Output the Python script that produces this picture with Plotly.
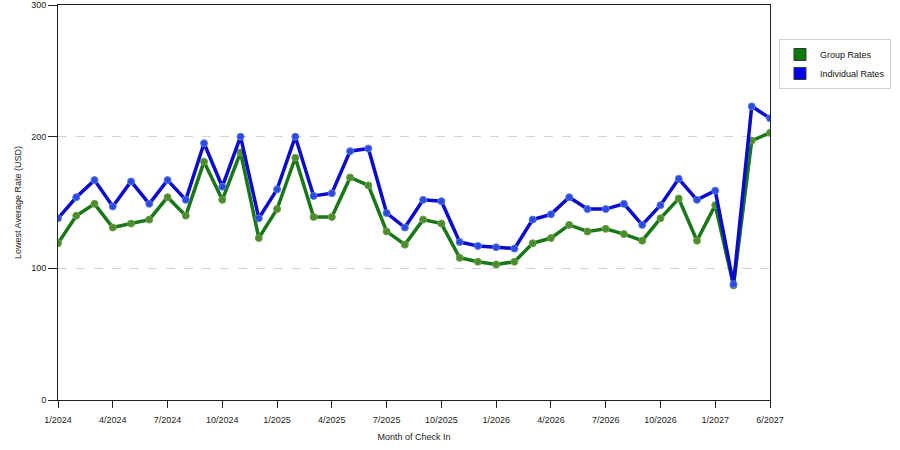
import plotly.graph_objects as go

# Months of check in (one point per month shown on the chart)
months = ["1/2024", "2/2024", "3/2024", "4/2024", "5/2024", "6/2024", "7/2024", "8/2024",
          "9/2024", "10/2024", "11/2024", "12/2024", "1/2025", "2/2025", "3/2025", "4/2025",
          "5/2025", "6/2025", "7/2025", "8/2025", "9/2025", "10/2025", "11/2025", "12/2025",
          "1/2026", "2/2026", "3/2026", "4/2026", "5/2026", "6/2026", "7/2026", "8/2026",
          "9/2026", "10/2026", "11/2026", "12/2026", "1/2027", "2/2027", "3/2027", "4/2027"]

group_rates = [119, 140, 149, 131, 134, 137, 154, 140, 181, 152, 188, 123, 145, 184, 139, 139,
               169, 163, 128, 118, 137, 134, 108, 105, 103, 105, 119, 123, 133, 128, 130, 126,
               121, 138, 153, 121, 148, 87, 197, 203]

individual_rates = [138, 154, 167, 147, 166, 149, 167, 152, 195, 162, 200, 138, 160, 200, 155, 157,
                    189, 191, 142, 131, 152, 151, 120, 117, 116, 115, 137, 141, 154, 145, 145, 149,
                    133, 148, 168, 152, 159, 88, 223, 214]

# axis ticks as printed on the chart
tick_months = ["1/2024", "4/2024", "7/2024", "10/2024", "1/2025", "4/2025", "7/2025", "10/2025",
               "1/2026", "4/2026", "7/2026", "10/2026", "1/2027", "4/2027"]
tick_labels = ["1/2024", "4/2024", "7/2024", "10/2024", "1/2025", "4/2025", "7/2025", "10/2025",
               "1/2026", "4/2026", "7/2026", "10/2026", "1/2027", "6/2027"]

font = "Liberation Sans, Arial, sans-serif"
green = "#187818"
blue = "#0a0ad0"

fig = go.Figure()

fig.add_trace(go.Scatter(x=months, y=group_rates, mode="lines+markers", showlegend=False,
                         line=dict(color=green, width=3.5),
                         marker=dict(size=7, color="#4c8c2c", line=dict(color="#6aa04a", width=1))))
fig.add_trace(go.Scatter(x=months, y=individual_rates, mode="lines+markers", showlegend=False,
                         line=dict(color=blue, width=3.5),
                         marker=dict(size=7, color="#2a4ae0", line=dict(color="#5a7ae8", width=1))))

# legend entries drawn as squares
fig.add_trace(go.Scatter(x=[None], y=[None], mode="markers", name="Group Rates",
                         marker=dict(symbol="square", size=12, color="#0a7a0a",
                                     line=dict(color="#333333", width=1))))
fig.add_trace(go.Scatter(x=[None], y=[None], mode="markers", name="Individual Rates",
                         marker=dict(symbol="square", size=12, color="#0000f0",
                                     line=dict(color="#333333", width=1))))

fig.update_layout(
    width=900, height=450,
    margin=dict(l=58, r=130, t=5, b=50, autoexpand=False),
    plot_bgcolor="white", paper_bgcolor="white",
    font=dict(family=font, size=9, color="#222222"),
    legend=dict(x=1.0126, y=0.914, xanchor="left", yanchor="top",
                bgcolor="white", bordercolor="#d0d0d0", borderwidth=1,
                font=dict(size=9, color="#111111"),
                tracegroupgap=4),
)

fig.update_xaxes(type="category", range=[0, len(months) - 1], automargin=False,
                 tickvals=tick_months, ticktext=tick_labels,
                 ticks="outside", ticklen=7, tickcolor="#222222", ticklabelstandoff=4,
                 showline=True, linecolor="#222222", linewidth=1, mirror=True,
                 showgrid=False, zeroline=False,
                 title=dict(text="Month of Check In", standoff=9, font=dict(size=9)))

fig.update_yaxes(range=[0, 300], tickvals=[0, 100, 200, 300], automargin=False,
                 ticks="outside", ticklen=9, tickcolor="#222222",
                 showline=True, linecolor="#222222", linewidth=1, mirror=True,
                 showgrid=True, gridcolor="#d4d4d4", griddash="dash", gridwidth=1,
                 zeroline=False,
                 title=dict(text="Lowest Average Rate (USD)", standoff=8, font=dict(size=9)))

# drop the page's default body margin so the chart sits at the window's corner
fig.write_html("out.html", config={"displayModeBar": False},
               post_script="document.body.style.margin='0';")
